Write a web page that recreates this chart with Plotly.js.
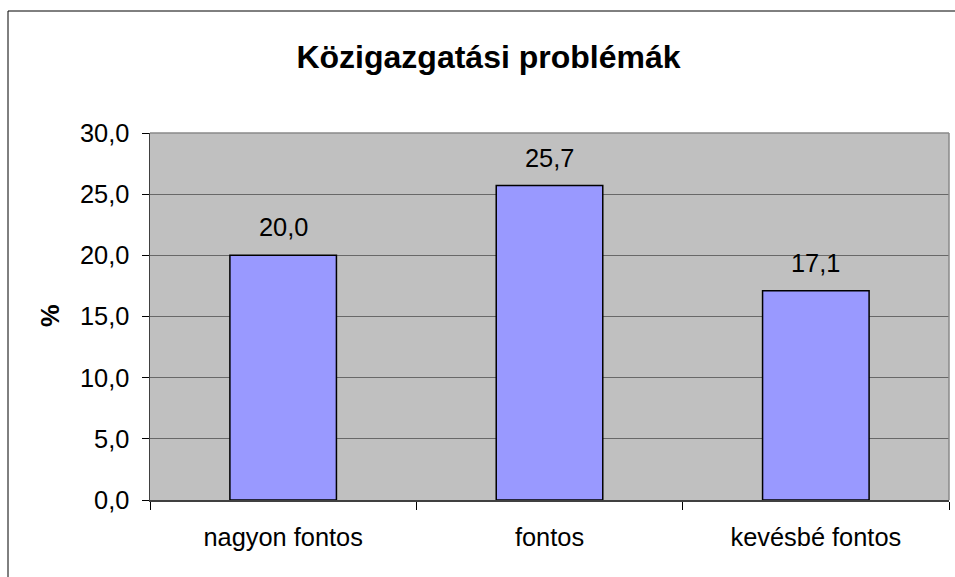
<!DOCTYPE html>
<html>
<head>
<meta charset="utf-8">
<script src="https://cdn.plot.ly/plotly-3.0.1.min.js"></script>
<style>
  html, body { margin: 0; padding: 0; background: #fff; }
  #chart { width: 955px; height: 577px; }
</style>
</head>
<body>
<div id="chart"></div>
<script>
const categories = ["nagyon fontos", "fontos", "kevésbé fontos"];
const values = [20.0, 25.7, 17.1];
const yTickValues = [0, 5, 10, 15, 20, 25, 30];
const chartTitle = "Közigazgatási problémák";
const yTitle = "%";

const FONT = "Arial, 'Liberation Sans', sans-serif";
const FS = 25.4;
const W = 955, H = 577;
const M = {l: 150, r: 6, t: 133, b: 77};
const pw = W - M.l - M.r, ph = H - M.t - M.b;
const px = p => (p - M.l) / pw;       // pixel x -> paper x
const py = p => (H - M.b - p) / ph;   // pixel y -> paper y

const fmt = v => v.toFixed(1).replace('.', ',');

const trace = {
  type: 'bar',
  x: categories,
  y: values,
  marker: {color: '#9999FF', line: {color: '#000000', width: 1.5}},
  hoverinfo: 'x+y'
};

const valueLabels = categories.map((c, i) => ({
  x: c, y: values[i], xref: 'x', yref: 'y',
  text: fmt(values[i]), showarrow: false,
  yanchor: 'bottom', yshift: 12,
  font: {family: FONT, size: FS, color: '#000'}
}));

const layout = {
  width: W, height: H,
  margin: M,
  paper_bgcolor: '#ffffff',
  plot_bgcolor: '#C0C0C0',
  separators: ', ',
  showlegend: false,
  bargap: 0.6,
  font: {family: FONT, size: FS, color: '#000'},
  title: {
    text: '<b>' + chartTitle + '</b>',
    font: {family: FONT, size: 32, color: '#000'},
    xref: 'container', yref: 'container',
    x: 488.5 / W, y: 1 - 57 / H, xanchor: 'center', yanchor: 'middle'
  },
  xaxis: {
    type: 'category',
    showline: true, linecolor: '#404040', linewidth: 1.5,
    ticks: 'outside', tickson: 'boundaries', ticklen: 8, tickcolor: '#000',
    ticklabelstandoff: 14,
    showgrid: false, zeroline: false,
    tickfont: {family: FONT, size: FS, color: '#000'}
  },
  yaxis: {
    range: [0, 30],
    tickvals: yTickValues,
    ticktext: yTickValues.map(fmt),
    showline: true, linecolor: '#404040', linewidth: 1.5,
    ticks: 'outside', ticklen: 7, tickcolor: '#000',
    ticklabelstandoff: 7,
    showgrid: true, gridcolor: '#686868', gridwidth: 1,
    zeroline: false,
    tickfont: {family: FONT, size: FS, color: '#000'}
  },
  shapes: [
    // plot area top & right border
    {type: 'line', xref: 'paper', yref: 'paper', x0: 0, x1: 1, y0: 1, y1: 1,
     line: {color: '#8a8a8a', width: 1.5}},
    {type: 'line', xref: 'paper', yref: 'paper', x0: 1, x1: 1, y0: 0, y1: 1,
     line: {color: '#8a8a8a', width: 1.5}},
    // outer chart border (left and top)
    {type: 'line', xref: 'paper', yref: 'paper', x0: px(8), x1: px(8), y0: py(H + 5), y1: py(11),
     line: {color: '#000', width: 1}},
    {type: 'line', xref: 'paper', yref: 'paper', x0: px(8), x1: px(W + 5), y0: py(11), y1: py(11),
     line: {color: '#000', width: 1}}
  ],
  annotations: valueLabels.concat([{
    xref: 'paper', yref: 'paper', x: px(50), y: py(316),
    text: '<b>' + yTitle + '</b>', textangle: -90, showarrow: false,
    xanchor: 'center', yanchor: 'middle',
    font: {family: FONT, size: FS, color: '#000'}
  }])
};

Plotly.newPlot('chart', [trace], layout, {displayModeBar: false, staticPlot: true});
</script>
</body>
</html>
